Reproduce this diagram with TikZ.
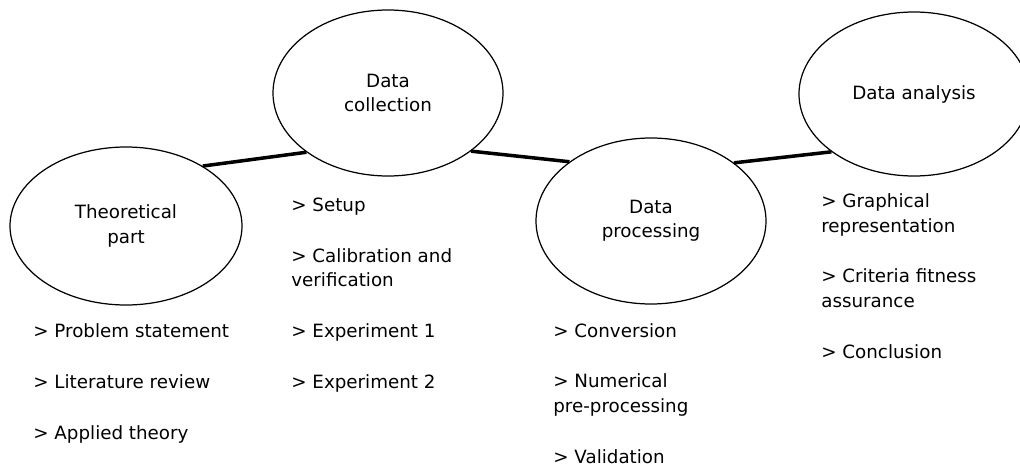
\documentclass[tikz,border=0pt]{standalone}
\usepackage{fontspec}
\setmainfont{DejaVu Sans}
\usetikzlibrary{shapes.geometric}
\tikzset{
  every picture/.style={font=\fontsize{10.4}{13.9}\selectfont},
  phase/.style={draw, ellipse, line width=0.7pt, minimum width=4.6cm, minimum height=3.32cm, inner sep=0pt, align=center},
  items/.style={anchor=base west, align=left, inner sep=0pt},
  link/.style={line width=2pt},
}
\begin{document}
\begin{tikzpicture}[x=1cm, y=1cm]
  \useasboundingbox (0,0) rectangle (20.4,9.4);
  % phases
  \node[phase, minimum width=4.64cm, minimum height=3.16cm] (theory) at (2.52,4.88) {Theoretical\\part};
  \node[phase] (collect) at (7.76,7.54) {Data\\collection};
  \node[phase] (process) at (13.02,4.98) {Data\\processing};
  \node[phase, minimum height=3.28cm] (analysis) at (18.28,7.52) {Data analysis};
  % links
  \draw[link] (theory.38) -- (collect.216);
  \draw[link] (collect.325) -- (process.144);
  \draw[link] (process.35) -- (analysis.215);
  % steps under each phase (base = last line)
  \node[items] (theorylist) at (0.66,0.62) {> Problem statement\\[15pt] > Literature review\\[15pt] > Applied theory};
  \node[items] (collectlist) at (5.82,1.64) {> Setup\\[15pt] > Calibration and\\verification\\[15pt] > Experiment 1\\[15pt] > Experiment 2};
  \node[items] (processlist) at (11.06,0.14) {> Conversion\\[15pt] > Numerical\\pre-processing\\[15pt] > Validation};
  \node[items] (analysislist) at (16.42,2.24) {> Graphical\\representation\\[15pt] > Criteria fitness\\assurance\\[15pt] > Conclusion};
\end{tikzpicture}
\end{document}
